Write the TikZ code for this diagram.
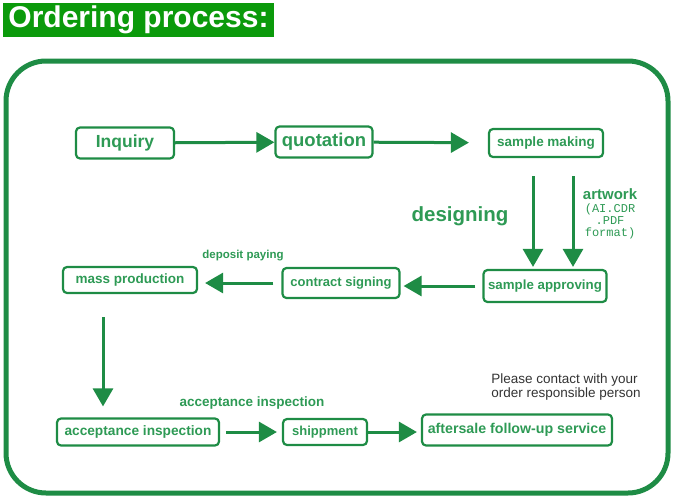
\documentclass[tikz,border=0pt]{standalone}
\usepackage{fontspec}
\setmainfont{Liberation Sans}
\setmonofont{Liberation Mono}
\usetikzlibrary{arrows.meta,positioning}
\definecolor{boxgreen}{HTML}{1E8C45}
\definecolor{txtgreen}{HTML}{2E9A55}
\definecolor{titlegreen}{HTML}{0B9A0B}
\newcommand{\fs}[1]{\fontsize{#1}{#1}\selectfont}
\tikzset{
  stage/.style={draw=boxgreen, line width=2.2pt, rounded corners=4pt, text=txtgreen, font=\bfseries\fs{13}, minimum height=28pt, inner sep=2pt},
  flow/.style={draw=boxgreen, line width=3pt, -{Triangle[length=18pt,width=20pt]}},
  note/.style={text=txtgreen, font=\bfseries}
}
\begin{document}
\begin{tikzpicture}[x=1pt,y=-1pt]
            \useasboundingbox (0,0) rectangle (677,501);
            \node[fill=titlegreen, text=white, font=\bfseries\fs{30}, minimum width=271pt, minimum height=34pt, inner sep=0pt] (title) at (138.5,20) {Ordering process:};
            \draw[boxgreen, line width=5pt, rounded corners=40pt] (6,61) rectangle (668,493);

            \node[stage, minimum width=98pt, minimum height=31pt, font=\bfseries\fs{17.5}] (inquiry) at (125,143) {Inquiry};
            \node[stage, minimum width=97pt, minimum height=31pt, font=\bfseries\fs{18.5}] (quotation) at (324,142) {quotation};
            \node[stage, minimum width=114pt, font=\bfseries\fs{13.5}] (making) at (546,143) {sample making};
            \node[stage, minimum width=123pt, minimum height=32pt, font=\bfseries\fs{13.3}] (approving) at (545,286) {sample approving};
            \node[stage, minimum width=117pt, minimum height=30pt] (contract) at (341,283) {contract signing};
            \node[stage, minimum width=134pt, minimum height=26pt, font=\bfseries\fs{13.5}] (mass) at (130,280) {mass production};
            \node[stage, minimum width=162pt, minimum height=27pt, font=\bfseries\fs{13.7}] (accept) at (138,432) {acceptance inspection};
            \node[stage, minimum width=84pt, minimum height=26pt] (ship) at (325,432) {shippment};
            \node[stage, minimum width=190pt, minimum height=31pt, font=\bfseries\fs{14.2}] (after) at (517,430) {aftersale follow-up service};

            \draw[flow] (inquiry) -- (quotation);
            \draw[flow, shorten >=19pt] (quotation) -- (making);
            \draw[flow, shorten <=18pt, shorten >=2pt] ([xshift=-13pt]making.south) -- ([xshift=-13pt]making.south |- approving.north);
            \draw[flow, shorten <=18pt, shorten >=2pt] ([xshift=27pt]making.south) -- ([xshift=27pt]making.south |- approving.north);
            \draw[flow, shorten <=7pt, shorten >=3pt] (approving.west) -- (approving.west -| contract.east);
            \draw[flow, shorten <=8pt, shorten >=7pt] (contract.west) -- (contract.west -| mass.east);
            \draw[flow, shorten <=23pt, shorten >=11pt] ([xshift=-27pt]mass.south) -- ([xshift=-27pt]mass.south |- accept.north);
            \draw[flow, shorten <=6pt, shorten >=5pt] (accept.east) -- (accept.east -| ship.west);
            \draw[flow, shorten >=4pt] (ship.east) -- (ship.east -| after.west);

            \node[note, font=\bfseries\fs{20.5}] (designing) at (460,216) {designing};
            \node[note, font=\bfseries\fs{15}] (artwork) at (610,194) {artwork};
            \node[text=txtgreen, font=\ttfamily\fs{12}, align=center, inner sep=0pt, below=1pt of artwork] (formats) {(AI.CDR\\.PDF\\format)};
            \node[note, font=\bfseries\fs{11.5}] (deposit) at (243,256) {deposit paying};
            \node[note, font=\bfseries\fs{13.5}] (inspect) at (252,403) {acceptance inspection};
            \node[text=black!80, font=\fs{13.5}, align=left, inner sep=0pt] (contact) at (566,387) {Please contact with your\\[1pt]order responsible person};
        \end{tikzpicture}
\end{document}
